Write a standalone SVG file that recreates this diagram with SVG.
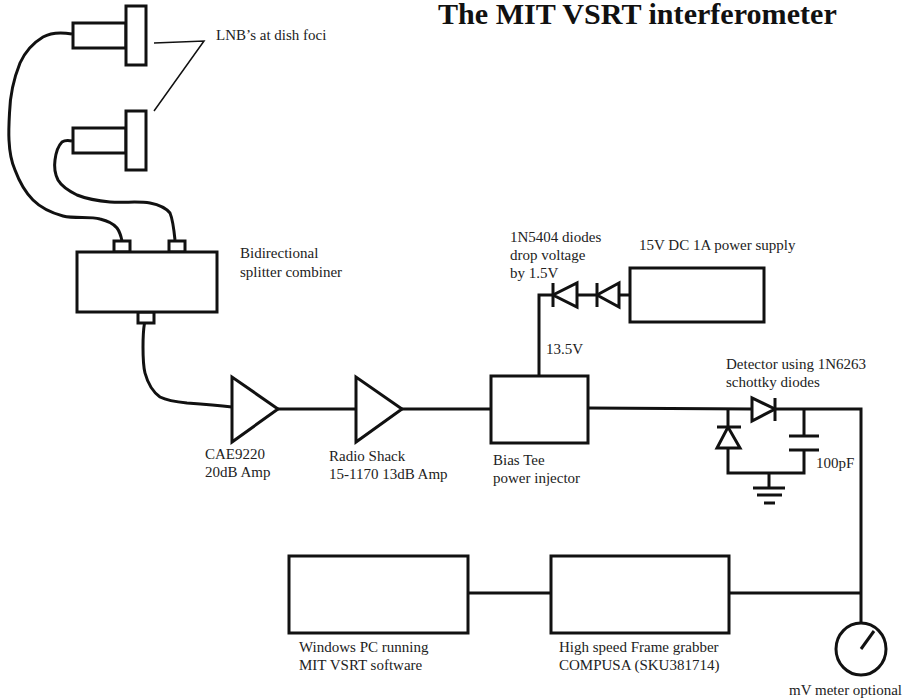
<svg xmlns="http://www.w3.org/2000/svg" width="907" height="700" viewBox="0 0 907 700">
<style>
rect,polygon,ellipse{fill:#fff;stroke:#111;stroke-width:3}
.w{fill:none;stroke:#111;stroke-width:3;stroke-linejoin:miter}
.t{fill:none;stroke:#111;stroke-width:1.5}
text{font-family:"Liberation Serif","Times New Roman",serif;font-size:15px;fill:#222}
.title{font-size:30.100px;font-weight:bold;fill:#111}
</style>
<rect width="907" height="700" style="fill:#fff;stroke:none"/>
<g id="connectors">
<path class="w" d="M72 34C60 32 50 33 43 37C33 43 25 52 20 63C14 78 10 96 9.500 113C9 122 8.500 131 9 140C9.500 151 11 161 15 170C19.500 182 25 192 33 200C41 208 52 213 63 216C75 219 90 216 100 219C108 221 113 223 117 228C120 232 121 236 122 241"/>
<path class="w" d="M72 141C67 140 65 140 62 142C58 146 56 152 55 160C54 167 55 174 58 180C62 187 69 191 77 195C87 199 98 201 110 202C125 203 138 201 150 203C160 205 166 208 170 213C173 220 174 230 175 240"/>
<path class="w" d="M144.500 323C143 332 143 340 143 347C143 356 143 365 145 373C148 384 153 392 160 397C168 401 177 402 187 403C202 404 216 405 232 407"/>
<path class="w" d="M278 409H356M402 409H491"/>
<path class="w" d="M539 376V295H553M577 295H597M619 295H630"/>
<path class="w" d="M588 408L752 409M775 409H861V623"/>
<path class="w" d="M728 409V427M728 448V473H804V450M804 436V409M769 473V488"/>
<path class="w" d="M468 593H551M729 593H861"/>
<path class="t" d="M154 43L204 41L154 111"/>
</g>
<g id="lnb1"><rect x="73" y="23" width="53" height="25"/><rect x="126" y="6" width="20" height="59"/></g>
<g id="lnb2"><rect x="73" y="128" width="53" height="25"/><rect x="126" y="111" width="20" height="59"/></g>
<g id="lnb-label"><text x="216" y="40">LNB’s at dish foci</text></g>
<g id="splitter">
<rect x="114" y="241" width="16" height="11"/><rect x="169" y="241" width="16" height="11"/><rect x="138" y="312" width="16" height="11"/>
<rect x="77" y="252" width="140" height="60"/>
<text x="240" y="258">Bidirectional</text><text x="240" y="277">splitter combiner</text>
</g>
<g id="amp1"><polygon points="232,377 232,442 278,409"/><text x="205" y="459">CAE9220</text><text x="205" y="477">20dB Amp</text></g>
<g id="amp2"><polygon points="356,377 356,442 402,409"/><text x="329" y="461">Radio Shack</text><text x="329" y="479">15-1170 13dB Amp</text></g>
<g id="bias-tee"><rect x="491" y="376" width="97" height="67"/><text x="493" y="465">Bias Tee</text><text x="493" y="483">power injector</text></g>
<g id="supply"><rect x="630" y="268" width="134" height="54"/><text x="639" y="250">15V DC 1A power supply</text></g>
<g id="diodes">
<polygon points="577,283 577,307 553,295"/><path class="w" d="M553 283V307"/>
<polygon points="619,283 619,307 597,295"/><path class="w" d="M597 283V307"/>
<text x="510" y="242">1N5404 diodes</text><text x="510" y="260">drop voltage</text><text x="510" y="278">by 1.5V</text>
<text x="546" y="354">13.5V</text>
</g>
<g id="detector">
<polygon points="752,398 752,421 775,409"/><path class="w" d="M775 398V421"/>
<polygon points="717,448 740,448 728,427"/><path class="w" d="M717 427H741"/>
<path class="w" d="M789 436H819M789 450H819"/>
<path class="w" d="M753 488H785M757 495H782M764 503H775"/>
<text x="726" y="369">Detector using 1N6263</text><text x="726" y="387">schottky diodes</text><text x="816" y="468">100pF</text>
</g>
<g id="pc"><rect x="289" y="556" width="179" height="77"/><text x="299" y="652">Windows PC running</text><text x="299" y="670">MIT VSRT software</text></g>
<g id="grabber"><rect x="551" y="556" width="178" height="77"/><text x="559" y="652">High speed Frame grabber</text><text x="559" y="670">COMPUSA (SKU381714)</text></g>
<g id="meter"><ellipse cx="861" cy="649" rx="25" ry="26"/><path class="w" d="M861 649L874 631"/><text x="789" y="695">mV meter optional</text></g>
<text class="title" x="438" y="24">The MIT VSRT interferometer</text>
</svg>
